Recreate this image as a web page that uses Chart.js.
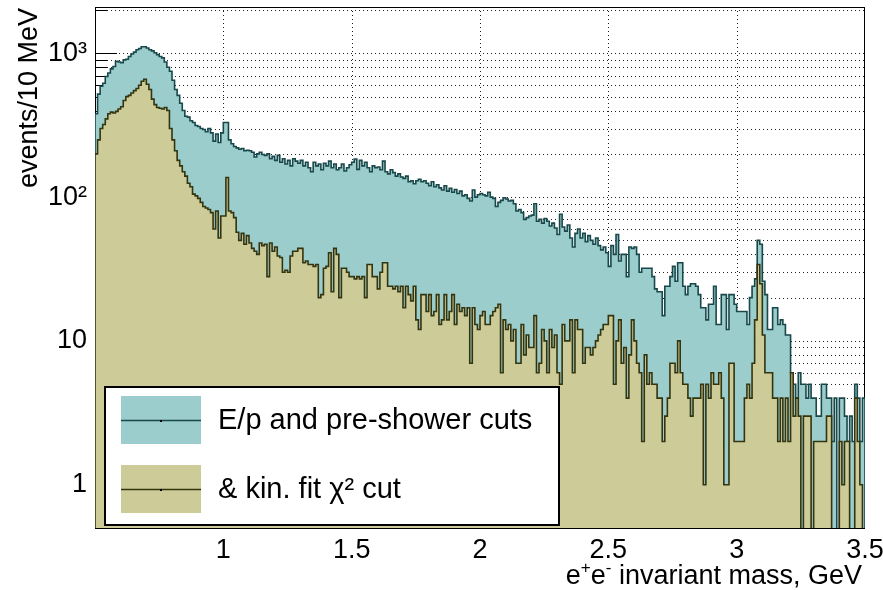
<!DOCTYPE html>
<html>
<head>
<meta charset="utf-8">
<title>e+e- invariant mass</title>
<script src="https://cdn.jsdelivr.net/npm/chart.js@4/dist/chart.umd.min.js"></script>
<style>
  html, body { margin: 0; padding: 0; background: #fff; }
  #wrap { width: 883px; height: 590px; }
</style>
</head>
<body>
<div id="wrap"><canvas id="grafico" width="883" height="590"></canvas></div>
<script>
// 10 MeV bins, 0.5 .. 3.5 GeV
const massLow = 0.5;
const binWidth = 0.01;

// events per bin after E/p and pre-shower cuts
const epCuts = [
  380, 520, 590, 620, 690, 730, 780, 810, 880, 870,
  860, 900, 910, 950, 990, 1020, 1060, 1080, 1110, 1110,
  1090, 1060, 1040, 1010, 980, 950, 930, 870, 800, 750,
  650, 560, 510, 450, 400, 365, 360, 340, 330, 315,
  310, 300, 295, 285, 300, 280, 245, 275, 240, 280,
  330, 330, 250, 235, 225, 220, 215, 218, 210, 212,
  210, 205, 190, 200, 205, 198, 195, 200, 185, 192,
  180, 195, 175, 185, 170, 180, 165, 185, 178, 172,
  180, 165, 175, 160, 150, 175, 165, 170, 155, 172,
  165, 178, 160, 170, 155, 160, 170, 152, 160, 168,
  175, 184, 156, 180, 165, 175, 160, 150, 165, 160,
  162, 155, 178, 150, 145, 155, 148, 140, 145, 138,
  135, 140, 128, 130, 124, 130, 133, 128, 130, 125,
  120, 128, 118, 122, 116, 112, 120, 110, 115, 108,
  113, 106, 110, 102, 104, 98, 94, 112, 100, 104,
  106, 104, 102, 108, 100, 98, 86, 92, 95, 99,
  97, 94, 95, 90, 80, 82, 78, 70, 72, 74,
  75, 90, 68, 70, 66, 71, 68, 63, 66, 61,
  55, 76, 62, 58, 64, 52, 45, 56, 60, 52,
  56, 49, 54, 50, 47, 52, 46, 43, 45, 41,
  33, 46, 40, 55, 36, 40, 40, 28, 45, 44,
  45, 40, 30, 32, 32, 32, 32, 28, 23, 22,
  22, 15, 24, 24, 28, 33, 26, 35, 35, 24,
  21, 24, 25, 25, 24, 21, 17, 17, 14, 18,
  18, 24, 13, 13, 21, 21, 12, 21, 21, 18,
  16, 16, 16, 16, 13, 20, 24, 27, 50, 47,
  26, 21, 12, 12, 17, 17, 13, 14, 13, 11,
  11, 6, 5, 4, 6, 5, 5, 4, 5, 4,
  4, 3, 3, 5, 5, 4, 4, 2, 4, 0,
  4, 4, 3, 2, 3, 2, 5, 4, 2, 4
];

// events per bin after the additional kinematic fit chi2 cut
const kinFitCuts = [
  200, 250, 300, 320, 350, 380, 390, 385, 395, 410,
  425, 470, 500, 510, 530, 550, 570, 600, 640, 660,
  610, 560, 480, 440, 420, 415, 410, 420, 400, 300,
  250, 210, 180, 165, 150, 140, 125, 118, 105, 102,
  98, 92, 86, 84, 82, 78, 60, 80, 52, 74,
  74, 137, 80, 78, 72, 57, 50, 56, 47, 54,
  48, 44, 42, 40, 48, 46, 47, 28, 48, 42,
  45, 39, 38, 30, 31, 30, 39, 42, 42, 44,
  44, 35, 36, 34, 34, 33, 34, 20, 21, 32,
  33, 41, 22, 44, 40, 20, 32, 32, 30, 28,
  28, 27, 28, 27, 28, 20, 34, 34, 28, 28,
  23, 30, 35, 35, 24, 24, 23, 24, 22, 24,
  17, 24, 21, 19, 24, 14, 12, 21, 21, 16,
  21, 15, 16, 21, 13, 14, 21, 14, 16, 21,
  13, 18, 16, 17, 15, 17, 7, 17, 13, 12,
  15, 16, 13, 13, 15, 16, 17, 18, 6, 14,
  12, 13, 10, 12, 7, 7, 13, 8, 11, 9,
  9, 15, 6, 7, 12, 10, 6, 12, 9, 11,
  6, 5, 13, 10, 10, 14, 6, 14, 12, 12,
  7, 9, 9, 8, 9, 10, 11, 12, 13, 13,
  15, 15, 5, 10, 14, 7, 9, 4, 8, 14,
  10, 7, 6, 2, 8, 5, 6, 5, 5, 4,
  4, 2, 3, 4, 7, 7, 6, 10, 6, 5,
  5, 4, 3, 4, 4, 4, 5, 1, 5, 4,
  6, 5, 5, 6, 4, 1, 1, 7, 7, 2,
  2, 2, 2, 4, 5, 4, 7, 14, 34, 25,
  11, 6, 6, 6, 4, 4, 2, 4, 2, 4,
  2, 6, 3, 4, 3, 0, 3, 3, 3, 0,
  2, 2, 2, 2, 2, 3, 3, 0, 0, 0,
  2, 1, 2, 2, 0, 0, 4, 2, 1, 0
];

const xTicks = [1, 1.5, 2, 2.5, 3, 3.5];
const xTickLabels = ['1', '1.5', '2', '2.5', '3', '3.5'];
const yTicks = [1, 10, 100, 1000];
const yTickLabels = ['1', '10', '10\u00B2', '10\u00B3'];
const seriesLabels = ['E/p and pre-shower cuts', '& kin. fit \u03C7\u00B2 cut'];

const Y_MIN = 0.5, Y_MAX = 2100;
const FONT = "'Liberation Sans', Arial, Helvetica, sans-serif";

const tealFill = 'rgb(155,205,205)', tealLine = 'rgb(24,72,74)';
const oliveFill = 'rgb(205,204,153)', oliveLine = 'rgb(52,52,14)';

// step outline like a ROOT histogram: up from the floor, across each bin, back down
function histPoints(counts){
  const floor = Y_MIN / 10;
  const pts = [{ x: massLow, y: floor }];
  counts.forEach((n, i) => pts.push({ x: massLow + i * binWidth, y: n > 0 ? n : floor }));
  const end = massLow + counts.length * binWidth;
  pts.push({ x: end, y: pts[pts.length - 1].y });
  pts.push({ x: end, y: floor });
  return pts;
}

// keep the plot frame fixed, labels may hang over the edges
function noEdgePadding(s){
  s.paddingLeft = 0; s.paddingRight = 0; s.paddingTop = 0; s.paddingBottom = 0;
}

// grid, frame and inward ticks under the histograms
const framePlugin = {
  id: 'frame',
  beforeDatasetsDraw(chart){
    const { ctx, chartArea: a, scales: { x, y } } = chart;
    ctx.save();
    ctx.strokeStyle = '#222';
    ctx.lineWidth = 1;
    ctx.setLineDash([1, 3]);
    // x grid
    xTicks.slice(0, -1).forEach(v => {
      const px = Math.round(x.getPixelForValue(v)) + 0.5;
      ctx.beginPath(); ctx.moveTo(px, a.top); ctx.lineTo(px, a.bottom); ctx.stroke();
    });
    // y grid on every 1..9 x 10^k
    const minor = [];
    for (let d = 1; d <= 1000; d *= 10) for (let m = 1; m <= 9; m++) if (m * d < Y_MAX) minor.push(m * d);
    minor.forEach(v => {
      const py = Math.round(y.getPixelForValue(v)) + 0.5;
      ctx.beginPath(); ctx.moveTo(a.left, py); ctx.lineTo(a.right, py); ctx.stroke();
    });
    ctx.setLineDash([]);
    ctx.strokeStyle = '#000';
    minor.forEach(v => {
      const py = Math.round(y.getPixelForValue(v)) + 0.5;
      const len = yTicks.includes(v) ? 22 : 12;
      ctx.beginPath(); ctx.moveTo(a.left, py); ctx.lineTo(a.left + len, py); ctx.stroke();
    });
    ctx.strokeRect(Math.round(a.left) + 0.5, Math.round(a.top) + 0.5,
                   Math.round(a.right - a.left) - 1, Math.round(a.bottom - a.top));
    ctx.restore();
  }
};

// legend box inside the plot, and axis titles
const textPlugin = {
  id: 'texts',
  afterDatasetsDraw(chart){
    const { ctx } = chart;
    const box = { x: 105, y: 387, w: 454, h: 138 };
    ctx.save();
    ctx.fillStyle = '#fff';
    ctx.fillRect(box.x, box.y, box.w, box.h);
    ctx.strokeStyle = '#000';
    ctx.lineWidth = 2;
    ctx.strokeRect(box.x, box.y, box.w, box.h);

    const entries = [
      { label: seriesLabels[0], fill: tealFill, line: tealLine, cy: 420 },
      { label: seriesLabels[1], fill: oliveFill, line: oliveLine, cy: 489 }
    ];
    ctx.font = '29px ' + FONT;
    ctx.textBaseline = 'middle';
    entries.forEach(e => {
      ctx.fillStyle = e.fill;
      ctx.fillRect(121, e.cy - 24, 80, 48);
      ctx.strokeStyle = e.line;
      ctx.lineWidth = 1.5;
      ctx.beginPath(); ctx.moveTo(121, e.cy + 0.5); ctx.lineTo(201, e.cy + 0.5); ctx.stroke();
      ctx.fillStyle = '#000';
      ctx.fillRect(160, e.cy, 2, 2);
      ctx.fillText(e.label, 218, e.cy + 1);
    });
    ctx.restore();
  },
  afterDraw(chart){
    const { ctx } = chart;
    ctx.save();
    ctx.fillStyle = '#000';
    ctx.textBaseline = 'alphabetic';

    // y title, rotated, ending at the top of the frame
    ctx.font = '27px ' + FONT;
    ctx.translate(37, 8);
    ctx.rotate(-Math.PI / 2);
    ctx.textAlign = 'right';
    ctx.fillText('events/10 MeV', 0, 0);
    ctx.setTransform(1, 0, 0, 1, 0, 0);

    // x title with superscript charges, right aligned to the axis end
    const parts = [['e', 0], ['+', 1], ['e', 0], ['-', 1], [' invariant mass, GeV', 0]];
    const base = 27, sup = 17;
    const widthOf = p => { ctx.font = (p[1] ? sup : base) + 'px ' + FONT; return ctx.measureText(p[0]).width; };
    const total = parts.reduce((s, p) => s + widthOf(p), 0);
    let px = 862 - total;
    const baseY = 584;
    ctx.textAlign = 'left';
    parts.forEach(p => {
      const w = widthOf(p);
      ctx.fillText(p[0], px, p[1] ? baseY - 11 : baseY);
      px += w;
    });
    ctx.restore();
  }
};

new Chart(document.getElementById('grafico'), {
  type: 'line',
  data: {
    datasets: [
      {
        label: seriesLabels[0],
        data: histPoints(epCuts),
        stepped: true,
        fill: 'start',
        backgroundColor: tealFill,
        borderColor: tealLine,
        borderWidth: 1.6,
        pointRadius: 0,
        clip: 0,
        order: 2
      },
      {
        label: seriesLabels[1],
        data: histPoints(kinFitCuts),
        stepped: true,
        fill: 'start',
        backgroundColor: oliveFill,
        borderColor: oliveLine,
        borderWidth: 1.6,
        pointRadius: 0,
        clip: 0,
        order: 1
      }
    ]
  },
  options: {
    responsive: false,
    animation: false,
    parsing: false,
    layout: { padding: { top: 7, right: 18, left: 0, bottom: 0 } },
    plugins: { legend: { display: false }, tooltip: { enabled: false } },
    scales: {
      x: {
        type: 'linear',
        min: massLow,
        max: massLow + epCuts.length * binWidth,
        bounds: 'data',
        grid: { display: false, drawTicks: false },
        border: { display: false },
        afterBuildTicks: s => { s.ticks = xTicks.map(v => ({ value: v })); },
        afterFit: s => { s.height = 62; noEdgePadding(s); },
        ticks: {
          autoSkip: false,
          maxRotation: 0,
          padding: 6,
          color: '#000',
          font: { family: FONT, size: 27 },
          callback: v => xTickLabels[xTicks.indexOf(v)]
        }
      },
      y: {
        type: 'logarithmic',
        min: Y_MIN,
        max: Y_MAX,
        bounds: 'data',
        grid: { display: false, drawTicks: false },
        border: { display: false },
        afterBuildTicks: s => { s.ticks = yTicks.map(v => ({ value: v })); },
        afterFit: s => { s.width = 95; noEdgePadding(s); },
        ticks: {
          autoSkip: false,
          padding: 8,
          color: '#000',
          font: { family: FONT, size: 27 },
          callback: v => yTickLabels[yTicks.indexOf(v)]
        }
      }
    }
  },
  plugins: [framePlugin, textPlugin]
});
</script>
</body>
</html>
